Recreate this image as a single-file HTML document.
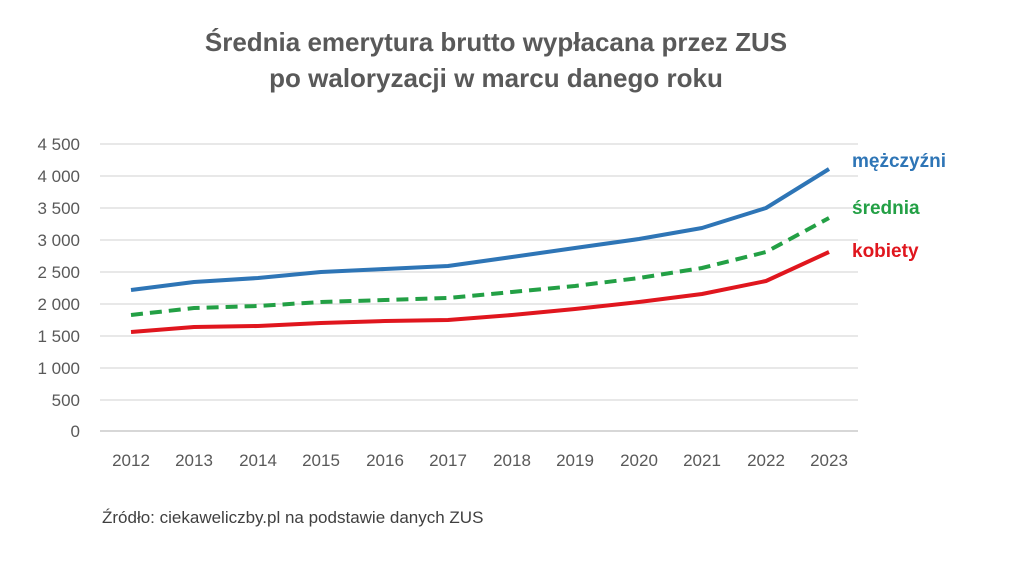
<!DOCTYPE html>
<html><head><meta charset="utf-8"><style>
body{margin:0;background:#fff;}
svg{display:block;font-family:"Liberation Sans",sans-serif;}
</style></head><body>
<svg width="1024" height="561" viewBox="0 0 1024 561">
<rect width="1024" height="561" fill="#fff"/>
<text x="496" y="51" text-anchor="middle" font-size="26" font-weight="bold" fill="#595959">Średnia emerytura brutto wypłacana przez ZUS</text>
<text x="496" y="87" text-anchor="middle" font-size="26" font-weight="bold" fill="#595959">po waloryzacji w marcu danego roku</text>
<g stroke="#d9d9d9" stroke-width="1.3">
<line x1="100" x2="858" y1="144" y2="144"/><line x1="100" x2="858" y1="176" y2="176"/>
<line x1="100" x2="858" y1="208" y2="208"/><line x1="100" x2="858" y1="240" y2="240"/>
<line x1="100" x2="858" y1="272" y2="272"/><line x1="100" x2="858" y1="304" y2="304"/>
<line x1="100" x2="858" y1="336" y2="336"/><line x1="100" x2="858" y1="368" y2="368"/>
<line x1="100" x2="858" y1="400" y2="400"/><line x1="100" x2="858" y1="431" y2="431" stroke="#bfbfbf"/>
</g>
<g font-size="17" fill="#595959" text-anchor="end">
<text x="80" y="150">4 500</text><text x="80" y="182">4 000</text><text x="80" y="214">3 500</text>
<text x="80" y="246">3 000</text><text x="80" y="278">2 500</text><text x="80" y="310">2 000</text>
<text x="80" y="342">1 500</text><text x="80" y="374">1 000</text><text x="80" y="406">500</text>
<text x="80" y="437">0</text>
</g>
<g font-size="17" fill="#595959" text-anchor="middle">
<text x="131" y="466">2012</text><text x="194" y="466">2013</text><text x="258" y="466">2014</text>
<text x="321" y="466">2015</text><text x="385" y="466">2016</text><text x="448" y="466">2017</text>
<text x="512" y="466">2018</text><text x="575" y="466">2019</text><text x="639" y="466">2020</text>
<text x="702" y="466">2021</text><text x="766" y="466">2022</text><text x="829" y="466">2023</text>
</g>
<polyline fill="none" stroke="#2e75b6" stroke-width="4" stroke-linejoin="round" points="131,290 194,282 258,278 321,272 385,269 448,266 512,257 575,248 639,239 702,228 766,208 829,169"/>
<polyline fill="none" stroke="#23a045" stroke-width="4" stroke-dasharray="12,7" points="131,315 194,308 258,306 321,302 385,300 448,298 512,292 575,286 639,278 702,268 766,252 829,218"/>
<polyline fill="none" stroke="#e0161e" stroke-width="4" stroke-linejoin="round" points="131,332 194,327 258,326 321,323 385,321 448,320 512,315 575,309 639,302 702,294 766,281 829,252"/>
<text x="852" y="167" font-size="19" font-weight="bold" fill="#2e75b6">mężczyźni</text>
<text x="852" y="214" font-size="19" font-weight="bold" fill="#23a045">średnia</text>
<text x="852" y="257" font-size="19" font-weight="bold" fill="#e0161e">kobiety</text>
<text x="102" y="523" font-size="17" fill="#404040">Źródło: ciekaweliczby.pl na podstawie danych ZUS</text>
</svg>
</body></html>
